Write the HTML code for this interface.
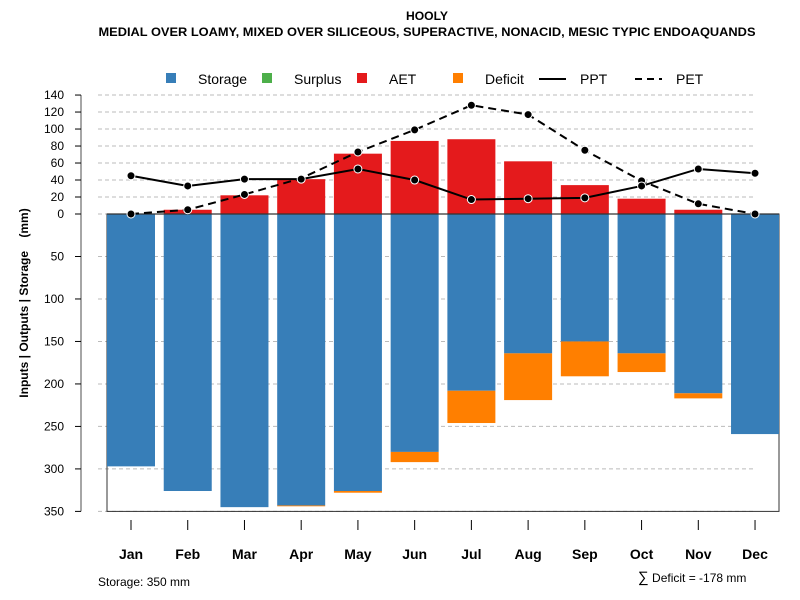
<!DOCTYPE html>
<html><head><meta charset="utf-8"><style>body{margin:0;background:#fff}svg{display:block;font-family:"Liberation Sans",sans-serif}</style></head>
<body>
<svg id="c" width="800" height="600" viewBox="0 0 800 600">
<text x="427" y="20" text-anchor="middle" font-size="12" font-weight="bold" textLength="42" lengthAdjust="spacingAndGlyphs">HOOLY</text>
<text x="427" y="36" text-anchor="middle" font-size="12" font-weight="bold" textLength="657" lengthAdjust="spacingAndGlyphs">MEDIAL OVER LOAMY, MIXED OVER SILICEOUS, SUPERACTIVE, NONACID, MESIC TYPIC ENDOAQUANDS</text>
<g id="legend" font-size="14">
<rect x="166" y="73" width="10" height="10" fill="#377eb8"/><text x="198" y="84">Storage</text>
<rect x="262" y="73" width="10" height="10" fill="#4daf4a"/><text x="294" y="84">Surplus</text>
<rect x="357" y="73" width="10" height="10" fill="#e41a1c"/><text x="389" y="84">AET</text>
<rect x="453" y="73" width="10" height="10" fill="#ff7f00"/><text x="485" y="84">Deficit</text>
<line x1="539" y1="79" x2="566" y2="79" stroke="#000" stroke-width="2"/><text x="580" y="84">PPT</text>
<line x1="635" y1="79" x2="662" y2="79" stroke="#000" stroke-width="2" stroke-dasharray="7,5"/><text x="676" y="84">PET</text>
</g>
<text transform="translate(28,303) rotate(-90)" text-anchor="middle" font-size="12" font-weight="bold">Inputs | Outputs | Storage&#160;&#160;&#160;&#160;(mm)</text>
<text x="98" y="586" font-size="12">Storage: 350 mm</text>
<text x="638" y="582" font-size="12"><tspan font-size="15">∑</tspan> Deficit = -178 mm</text>
</svg>
<script>
const months=["Jan","Feb","Mar","Apr","May","Jun","Jul","Aug","Sep","Oct","Nov","Dec"];
const storage=[297,326,345,343,326,280,208,164,150,164,211,259];
const deficit=[0,0,0,1,2,12,38,55,41,22,6,0];
const aet=[0,5,22,41,71,86,88,62,34,18,5,0];
const ppt=[45,33,41,41,53,40,17,18,19,33,53,48];
const pet=[0,5,23,42,73,99,128,117,75,39,12,0];
const upTicks=[0,20,40,60,80,100,120,140];
const downTicks=[50,100,150,200,250,300,350];
const svg=document.getElementById('c');const NS='http://www.w3.org/2000/svg';
const y0=214,k=0.8497;
const yUp=v=>y0-v*k, yDn=v=>y0+v*k;
const xC=i=>131+i*56.73;
function mk(t,a,p){const e=document.createElementNS(NS,t);for(const n in a)e.setAttribute(n,a[n]);(p||svg).appendChild(e);return e;}
const g=mk('g',{});


upTicks.forEach(v=>{mk('line',{x1:98,x2:756,y1:yUp(v),y2:yUp(v),stroke:'#bbb','stroke-dasharray':'4,3'},g);});
downTicks.forEach(v=>{mk('line',{x1:98,x2:756,y1:yDn(v),y2:yDn(v),stroke:'#bbb','stroke-dasharray':'4,3'},g);});
const box=mk('rect',{x:107,y:y0,width:672,height:350*k,fill:'none',stroke:'#333'});


months.forEach((m,i)=>{
 const x=xC(i)-24;
 const s=mk('rect',{x:x,y:y0,width:48,height:storage[i]*k,fill:'#377eb8'});
 
 
 if(deficit[i]>0){const d=mk('rect',{x:x,y:yDn(storage[i]),width:48,height:deficit[i]*k,fill:'#ff7f00'});
 
 }
 if(aet[i]>0){const a=mk('rect',{x:x,y:yUp(aet[i]),width:48,height:aet[i]*k,fill:'#e41a1c'});
 
 }
 const t=mk('line',{x1:xC(i),x2:xC(i),y1:520,y2:530,stroke:'#000'});
 
 
 const l=mk('text',{x:xC(i),y:559,'text-anchor':'middle','font-size':14,'font-weight':'bold'});l.textContent=m;
 
 
});
const zl=mk('line',{x1:107,x2:779,y1:y0,y2:y0,stroke:'#333','stroke-width':1.2});


const ax=mk('line',{x1:81,x2:81,y1:yUp(140),y2:yDn(350),stroke:'#888','stroke-width':1.5});


function ytick(yy,lab){mk('line',{x1:75,x2:81,y1:yy,y2:yy,stroke:'#000'});const t=mk('text',{x:64,y:yy+4,'text-anchor':'end','font-size':12});t.textContent=lab;
 
 }
upTicks.forEach(v=>ytick(yUp(v),v));downTicks.forEach(v=>ytick(yDn(v),v));
function series(vals,dash,name){
 const pts=vals.map((v,i)=>xC(i)+','+yUp(v)).join(' ');
 const p=mk('polyline',{points:pts,fill:'none',stroke:'#000','stroke-width':2,'stroke-dasharray':dash});
 
 
 vals.forEach((v,i)=>{const c=mk('circle',{cx:xC(i),cy:yUp(v),r:4,fill:'#000',stroke:'#fff','stroke-width':1});
 
 });
}
series(pet,'8,5','pet');
series(ppt,'none','ppt');
</script>
</body></html>
